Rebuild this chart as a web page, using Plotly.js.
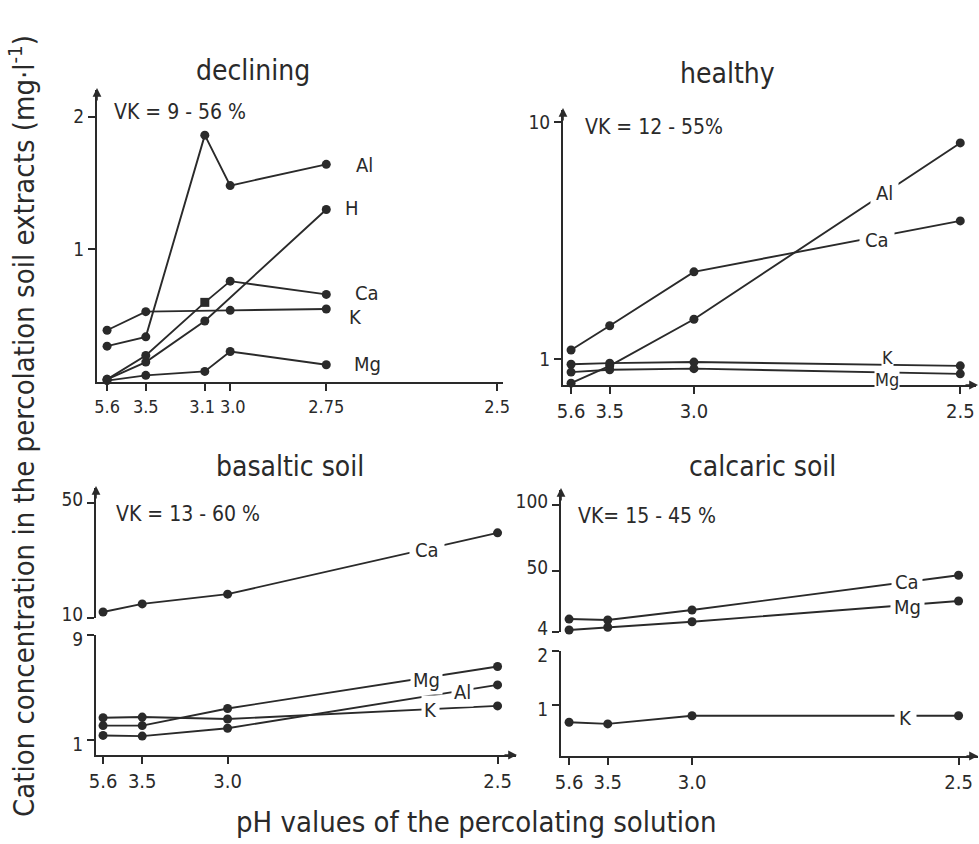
<!DOCTYPE html>
<html>
<head>
<meta charset="utf-8">
<script src="https://cdn.plot.ly/plotly-3.0.1.min.js"></script>
<style>
  html, body { margin: 0; padding: 0; background: #fff; }
  #chart { width: 979px; height: 844px; }
</style>
</head>
<body>
<div id="chart"></div>
<script>
// pH steps of the percolating solution
const phDeclining = [5.6, 3.5, 3.1, 3.0, 2.75];
const phSteps = [5.6, 3.5, 3.0, 2.5];

// declining stand (mg/l)
const declAl = [0.27, 0.34, 1.86, 1.48, 1.64];
const declH  = [0.02, 0.15, 0.46, null, 1.30];
const declCa = [0.02, 0.20, 0.60, 0.76, 0.66];
const declK  = [0.39, 0.53, null, 0.54, 0.55];
const declMg = [0.01, 0.05, 0.08, 0.23, 0.13];

// healthy stand (mg/l)
const healAl = [0.79, 0.935, 1.47, 8.15];
const healCa = [1.09, 1.38, 2.33, 3.82];
const healK  = [0.95, 0.96, 0.97, 0.935];
const healMg = [0.88, 0.90, 0.91, 0.865];

// basaltic soil (mg/l)
const basCa = [12.1, 14.9, 18.3, 39.6];
const basMg = [2.1, 2.1, 3.4, 6.6];
const basAl = [1.35, 1.3, 1.9, 5.2];
const basK  = [2.7, 2.75, 2.6, 3.6];

// calcaric soil (mg/l)
const calCa = [13.8, 13.1, 20.7, 47];
const calMg = [5.5, 7.6, 11.8, 27.5];
const calK  = [0.68, 0.65, 0.80, 0.80];

// tick labels
const phTicksDecl = ['5.6', '3.5', '3.1', '3.0', '2.75', '2.5'];
const phTicks = ['5.6', '3.5', '3.0', '2.5'];

// the pH axis is drawn linear in H+ concentration (mmol/l)
const hConc = ph => 1000 * Math.pow(10, -ph);
const xDecl = phDeclining.map(hConc);
const xStep = phSteps.map(hConc);
const tickDecl = phTicksDecl.map(s => hConc(parseFloat(s)));
const tickStep = phTicks.map(s => hConc(parseFloat(s)));
// 3.1 and 3.0 sit close together: nudge their labels apart with a hard space
const tickTextDecl = phTicksDecl.map(s => s === '3.1' ? s + '\u00a0' : (s === '3.0' ? '\u00a0' + s : s));

const W = 979, H = 844;
const FONT = '"DejaVu Sans Condensed", "DejaVu Sans", sans-serif';
const INK = '#2a2a2a';
const fx = p => p / W;
const fy = p => 1 - p / H;

function series(x, y, xa, ya, symbols) {
  return {
    x: x, y: y, xaxis: xa, yaxis: ya, type: 'scatter', mode: 'lines+markers',
    connectgaps: true, cliponaxis: false, showlegend: false, hoverinfo: 'skip',
    line: { color: INK, width: 1.9 },
    marker: { color: INK, size: 9, symbol: symbols || 'circle' }
  };
}

const data = [
  series(xDecl, declAl, 'x', 'y'),
  series(xDecl, declH, 'x', 'y'),
  series(xDecl, declCa, 'x', 'y', ['circle', 'circle', 'square', 'circle', 'circle']),
  series(xDecl, declK, 'x', 'y'),
  series(xDecl, declMg, 'x', 'y'),

  series(xStep, healAl, 'x2', 'y2'),
  series(xStep, healCa, 'x2', 'y2'),
  series(xStep, healK, 'x2', 'y2'),
  series(xStep, healMg, 'x2', 'y2'),

  series(xStep, basCa, 'x3', 'y4'),
  series(xStep, basMg, 'x3', 'y3'),
  series(xStep, basAl, 'x3', 'y3'),
  series(xStep, basK, 'x3', 'y3'),

  series(xStep, calCa, 'x4', 'y6'),
  series(xStep, calMg, 'x4', 'y6'),
  series(xStep, calK, 'x4', 'y5')
];

const xTickFont = { family: FONT, size: 20, color: INK };
const yTickFont = { family: FONT, size: 19, color: INK };

function xAxis(d0, d1, range, vals, texts, anchor) {
  return {
    domain: [fx(d0), fx(d1)], range: range, anchor: anchor,
    showline: true, linecolor: INK, linewidth: 2,
    ticks: 'outside', ticklen: 7, tickwidth: 2, tickcolor: INK,
    tickvals: vals, ticktext: texts, tickfont: xTickFont, tickangle: 0,
    showgrid: false, zeroline: false, fixedrange: true
  };
}
function yAxis(top, bottom, range, vals, texts, anchor, type) {
  return {
    domain: [fy(bottom), fy(top)], range: range, anchor: anchor, type: type || 'linear',
    showline: true, linecolor: INK, linewidth: 2,
    ticks: 'outside', ticklen: 7, tickwidth: 2, tickcolor: INK,
    tickvals: vals, ticktext: texts, tickfont: yTickFont, tickangle: 0,
    showgrid: false, zeroline: false, fixedrange: true
  };
}

const layout = {
  width: W, height: H,
  margin: { l: 0, r: 0, t: 0, b: 0 },
  paper_bgcolor: '#fff', plot_bgcolor: 'rgba(0,0,0,0)',
  font: { family: FONT, color: INK },
  showlegend: false,

  xaxis: Object.assign(xAxis(97, 503, [-0.079, 3.21], tickDecl, tickTextDecl, 'y'),
    { tickfont: { family: FONT, size: 18, color: INK } }),
  yaxis: yAxis(90, 382, [0, 2.2], [1, 2], ['1', '2'], 'x'),

  xaxis2: xAxis(563, 976, [-0.063, 3.29], tickStep, phTicks, 'y2'),
  yaxis2: yAxis(110, 385, [-0.11, 1.05], [1, 10], ['1', '10'], 'x2', 'log'),

  xaxis3: xAxis(96, 516, [-0.054, 3.31], tickStep, phTicks, 'y3'),
  yaxis3: Object.assign(yAxis(635, 755, [-0.14, 9], [1, 9], ['1', '9'], 'x3'), { ticklabelshift: 4 }),
  yaxis4: Object.assign(yAxis(488, 618, [10, 55.2], [10, 50], ['10', '50'], 'x3'), { ticklabelshift: -4 }),

  xaxis4: xAxis(561, 978, [-0.063, 3.32], tickStep, phTicks, 'y5'),
  yaxis5: Object.assign(yAxis(651, 756, [0.055, 2], [1, 2], ['1', '2'], 'x4'), { ticklabelshift: 4 }),
  yaxis6: Object.assign(yAxis(490, 632, [4, 111.6], [4, 50, 100], ['4', '50', '100'], 'x4'), { ticklabelshift: -4 }),

  annotations: []
};

const ann = layout.annotations;
function text(t, x, y, size, opts) {
  ann.push(Object.assign({
    text: t, xref: 'paper', yref: 'paper', x: fx(x), y: fy(y),
    xanchor: 'center', yanchor: 'middle', showarrow: false,
    font: { family: FONT, size: size, color: INK }
  }, opts || {}));
}
function arrow(x, y, ax, ay) {
  ann.push({
    text: '', xref: 'paper', yref: 'paper', x: fx(x), y: fy(y),
    ax: ax, ay: ay, showarrow: true, arrowhead: 2, arrowsize: 1.1,
    arrowwidth: 1.6, arrowcolor: INK
  });
}

// panel titles
text('declining', 253, 70, 28);
text('healthy', 727, 73, 28);
text('basaltic soil', 290, 466, 28);
text('calcaric soil', 762, 466, 28);

// variation coefficients
text('VK = 9 - 56 %', 180, 112, 21);
text('VK = 12 - 55%', 654, 127, 21);
text('VK = 13 - 60 %', 188, 514, 21);
text('VK= 15 - 45 %', 647, 516, 21);

// series labels, declining
const lab = 20;
text('Al', 365, 165, lab, { xanchor: 'left', x: fx(354) });
text('H', 350, 208, lab, { xanchor: 'left', x: fx(343) });
text('Ca', 365, 293, lab, { xanchor: 'left', x: fx(353) });
text('K', 350, 317, lab, { xanchor: 'left', x: fx(347) });
text('Mg', 365, 364, lab, { xanchor: 'left', x: fx(352) });

// series labels sitting on the lines (white box breaks the line)
const onLine = { bgcolor: '#fff', borderpad: 5 };
text('Al', 884, 193, lab, onLine);
text('Ca', 877, 240, lab, onLine);
text('K', 887, 357, 18, { bgcolor: '#fff', borderpad: 0 });
text('Mg', 887, 379, 18, { bgcolor: '#fff', borderpad: 0 });

text('Ca', 427, 550, lab, onLine);
text('Mg', 426, 680, lab, { bgcolor: '#fff', borderpad: 2 });
text('Al', 462, 692, lab, { bgcolor: '#fff', borderpad: 2 });
text('K', 430, 710, lab, { bgcolor: '#fff', borderpad: 2 });

text('Ca', 907, 582, lab, { bgcolor: '#fff', borderpad: 3 });
text('Mg', 907, 607, lab, { bgcolor: '#fff', borderpad: 3 });
text('K', 905, 718, lab, { bgcolor: '#fff', borderpad: 4 });

// axis titles
text('Cation concentration in the percolation soil extracts (mg·l<sup>-1</sup>)', 22, 426, 29, { textangle: -90 });
text('pH values of the percolating solution', 476, 822, 29);

// arrow heads on the axes
arrow(97, 88, 0, 14);
arrow(563, 108, 0, 14);
arrow(96, 486, 0, 14);
arrow(561, 488, 0, 14);
arrow(978, 385, -14, 0);
arrow(517, 755, -14, 0);
arrow(979, 756, -14, 0);

Plotly.newPlot('chart', data, layout, { staticPlot: true, displayModeBar: false });
</script>
</body>
</html>
